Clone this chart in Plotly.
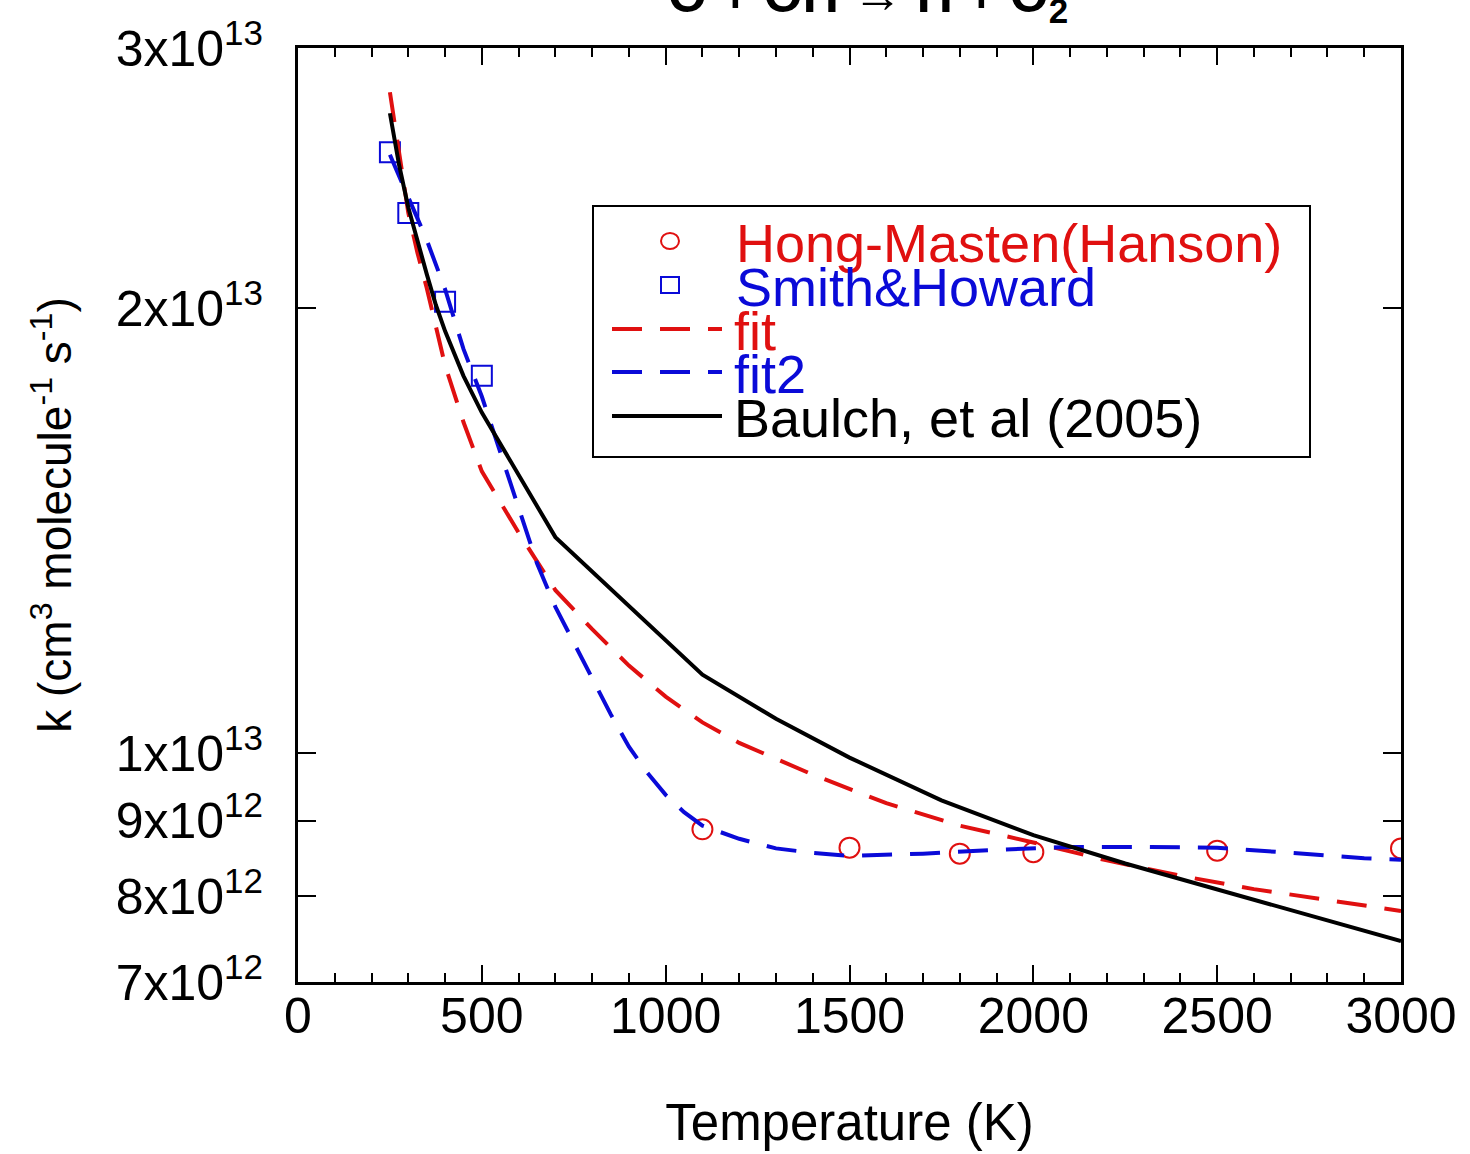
import plotly.graph_objects as go
import numpy as np

# ---------------- data ----------------
hm_T = [1100, 1500, 1800, 2000, 2500, 3000]
hm_k = [8.88e12, 8.63e12, 8.55e12, 8.57e12, 8.59e12, 8.62e12]

sh_T = [250, 300, 400, 500]
sh_k = [2.55e13, 2.32e13, 2.02e13, 1.80e13]

fit_T = [250, 275, 300, 325, 350, 400, 450, 500, 600, 700, 800, 900, 1000, 1100, 1200,
         1400, 1600, 1800, 2000, 2200, 2400, 2600, 2800, 3000]
fit_k = [2.80e13, 2.55e13, 2.32e13, 2.18e13, 2.065e13, 1.83e13, 1.675e13, 1.551e13, 1.41e13,
         1.289e13, 1.213e13, 1.146e13, 1.092e13, 1.049e13, 1.016e13, 9.67e12, 9.25e12,
         8.93e12, 8.70e12, 8.46e12, 8.26e12, 8.09e12, 7.96e12, 7.82e12]

fit2_T = [250, 300, 350, 400, 450, 500, 550, 600, 650, 700, 750, 800, 850, 900, 950, 1000,
          1050, 1100, 1200, 1300, 1400, 1500, 1700, 1900, 2100, 2300, 2500, 2700, 2900, 3000]
fit2_k = [2.54e13, 2.375e13, 2.225e13, 2.06e13, 1.877e13, 1.743e13, 1.596e13, 1.462e13,
          1.344e13, 1.256e13, 1.187e13, 1.122e13, 1.063e13, 1.010e13, 9.70e12, 9.37e12,
          9.12e12, 8.93e12, 8.75e12, 8.62e12, 8.56e12, 8.52e12, 8.55e12, 8.60e12, 8.64e12,
          8.64e12, 8.63e12, 8.56e12, 8.49e12, 8.47e12]

baulch_T = [250, 275, 300, 325, 350, 375, 400, 450, 500, 700, 1100, 1300, 1500,
            1750, 2000, 2250, 2500, 2750, 3000]
baulch_k = [2.71e13, 2.50e13, 2.34e13, 2.22e13, 2.11e13, 2.01e13, 1.93e13, 1.80e13, 1.70e13,
            1.40e13, 1.13e13, 1.055e13, 9.93e12, 9.29e12, 8.80e12, 8.42e12, 8.09e12,
            7.77e12, 7.46e12]

y_tickvals = [7e12, 8e12, 9e12, 1e13, 2e13, 3e13]
y_ticktext = ["7x10<sup>12</sup>", "8x10<sup>12</sup>", "9x10<sup>12</sup>",
              "1x10<sup>13</sup>", "2x10<sup>13</sup>", "3x10<sup>13</sup>"]
x_tickvals = [0, 500, 1000, 1500, 2000, 2500, 3000]

legend_labels = ["Hong-Masten(Hanson)", "Smith&Howard", "fit", "fit2", "Baulch, et al (2005)"]

RED = "#e01010"
BLUE = "#0a0ad8"
BLACK = "#000000"
FONT = "Liberation Sans, Arial, Helvetica, sans-serif"

fig = go.Figure()
fig.add_trace(go.Scatter(x=hm_T, y=hm_k, mode="markers", name=legend_labels[0],
                         marker=dict(symbol="circle-open", size=20, color=RED, line=dict(width=2, color=RED))))
fig.add_trace(go.Scatter(x=sh_T, y=sh_k, mode="markers", name=legend_labels[1],
                         marker=dict(symbol="square-open", size=20, color=BLUE, line=dict(width=2, color=BLUE))))
fig.add_trace(go.Scatter(x=fit_T, y=fit_k, mode="lines", name=legend_labels[2],
                         line=dict(color=RED, width=4, dash="30px,18px")))
fig.add_trace(go.Scatter(x=fit2_T, y=fit2_k, mode="lines", name=legend_labels[3],
                         line=dict(color=BLUE, width=4, dash="30px,18px")))
fig.add_trace(go.Scatter(x=baulch_T, y=baulch_k, mode="lines", name=legend_labels[4],
                         line=dict(color=BLACK, width=4)))

W, H = 1470, 1154
L, R, T, B = 298, 69, 48, 172
pw, ph = W - L - R, H - T - B

def px_x(p):
    return (p - L) / pw

def px_y(p):
    return (H - B - p) / ph

# ---------------- manual legend ----------------
shapes = [dict(type="rect", xref="paper", yref="paper",
               x0=px_x(593), x1=px_x(1310), y0=px_y(457), y1=px_y(206),
               line=dict(color="black", width=2), fillcolor="white", layer="above")]
rows = [241, 285, 329, 372, 416]
colors = [RED, BLUE, RED, BLUE, BLACK]
shapes.append(dict(type="circle", xref="paper", yref="paper", xsizemode="pixel", ysizemode="pixel",
                   xanchor=px_x(670), yanchor=px_y(rows[0]), x0=-9, x1=9, y0=-8, y1=8,
                   line=dict(color=RED, width=2), layer="above"))
shapes.append(dict(type="rect", xref="paper", yref="paper", xsizemode="pixel", ysizemode="pixel",
                   xanchor=px_x(670), yanchor=px_y(rows[1]), x0=-9, x1=9, y0=-8, y1=8,
                   line=dict(color=BLUE, width=2), layer="above"))
for r, c, d in [(rows[2], RED, "30px,18px"), (rows[3], BLUE, "30px,18px"), (rows[4], BLACK, "solid")]:
    shapes.append(dict(type="line", xref="paper", yref="paper",
                       x0=px_x(612), x1=px_x(722), y0=px_y(r), y1=px_y(r),
                       line=dict(color=c, width=4, dash=d), layer="above"))

annotations = []
for i, (lab, r, c) in enumerate(zip(legend_labels, rows, colors)):
    annotations.append(dict(text=lab.replace("&", "&amp;"), xref="paper", yref="paper",
                            x=px_x(734 if i < 2 else 732), y=px_y(r + 2),
                            xanchor="left", yanchor="middle", showarrow=False,
                            font=dict(family=FONT, size=54, color=c)))

# title (cut off at top as in the reference)
annotations.append(dict(text="<b>O + OH → H + O<sub>2</sub></b>", xref="paper", yref="paper",
                        x=px_x(868), y=px_y(32), xanchor="center", yanchor="bottom",
                        showarrow=False, font=dict(family=FONT, size=50, color="black")))

fig.update_layout(
    width=W, height=H,
    margin=dict(l=L, r=R, t=T, b=B, pad=0, autoexpand=False),
    paper_bgcolor="white", plot_bgcolor="white",
    showlegend=False,
    font=dict(family=FONT, color="black"),
    shapes=shapes, annotations=annotations,
)
fig.update_xaxes(
    range=[0, 3000], tickvals=x_tickvals, ticktext=[str(v) for v in x_tickvals],
    ticks="inside", ticklen=17, tickwidth=2, tickcolor="black",
    minor=dict(dtick=100, ticks="inside", ticklen=9, tickwidth=2, tickcolor="black", showgrid=False),
    showline=True, linewidth=3, linecolor="black", mirror="allticks",
    showgrid=False, zeroline=False, automargin=False, ticklabelstandoff=-12,
    tickfont=dict(family=FONT, size=50, color="black"),
    title=dict(text="Temperature (K)", font=dict(family=FONT, size=51, color="black"), standoff=62),
)
fig.update_yaxes(
    type="log", range=[np.log10(7e12), np.log10(3e13)],
    tickvals=y_tickvals, ticktext=y_ticktext,
    ticks="inside", ticklen=18, tickwidth=2, tickcolor="black",
    showline=True, linewidth=3, linecolor="black", mirror="allticks",
    showgrid=False, zeroline=False, ticklabelstandoff=22, automargin=False,
    tickfont=dict(family=FONT, size=50, color="black"),
    title=dict(text="k (cm<sup>3</sup> molecule<sup>-1</sup> s<sup>-1</sup>)",
               font=dict(family=FONT, size=46, color="black"), standoff=30),
)

fig.write_html("out.html", config={"displayModeBar": False},
               post_script="document.body.style.margin='0';")
